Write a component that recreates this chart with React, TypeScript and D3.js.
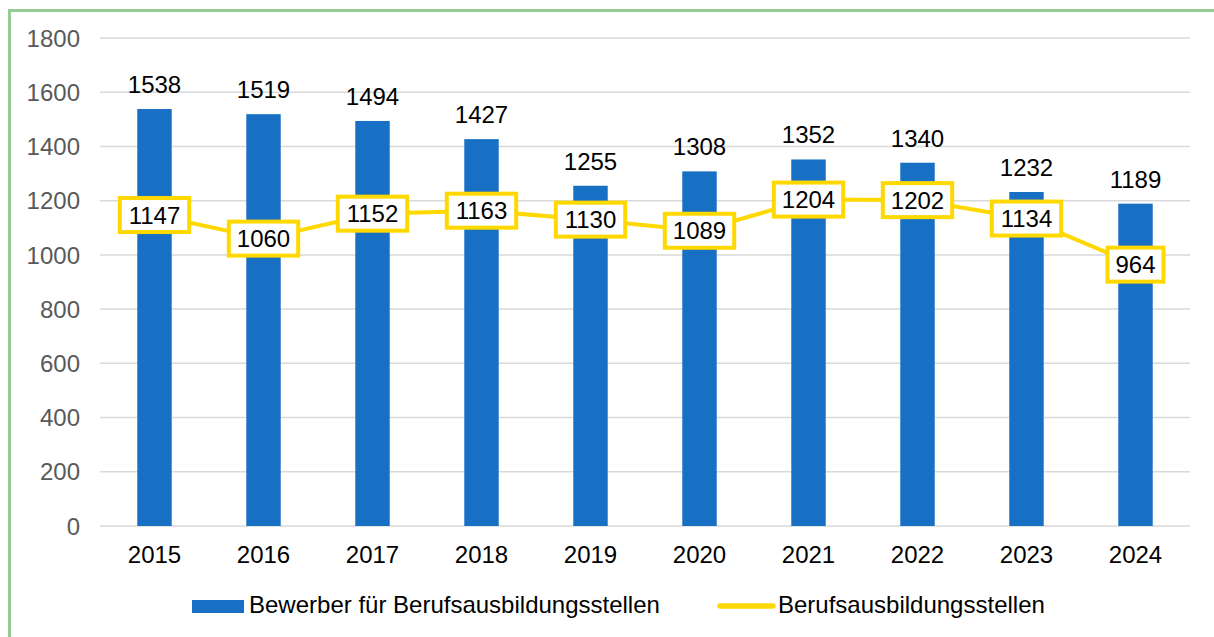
import React from "react";
import * as d3 from "d3";

const years = ["2015", "2016", "2017", "2018", "2019", "2020", "2021", "2022", "2023", "2024"];
const bewerber = [1538, 1519, 1494, 1427, 1255, 1308, 1352, 1340, 1232, 1189];
const stellen = [1147, 1060, 1152, 1163, 1130, 1089, 1204, 1202, 1134, 964];
const yTicks = [0, 200, 400, 600, 800, 1000, 1200, 1400, 1600, 1800];
const seriesNames = ["Bewerber für Berufsausbildungsstellen", "Berufsausbildungsstellen"];

const W = 1214, H = 637;
const BLUE = "#1870C5";
const YELLOW = "#FFD800";
const FONT = "'Liberation Sans', Arial, sans-serif";
const FS = 24;

function textWidth(s: string) {
  return s.length * 0.556 * FS;
}

export default function App() {
  const x = d3.scaleBand<string>().domain(years).range([100, 1190]).paddingInner(0.684).paddingOuter(0.342);
  const y = d3.scaleLinear().domain([0, 1800]).range([526, 38]);
  const cx = (yr: string) => (x(yr) ?? 0) + x.bandwidth() / 2;
  const line = d3.line<number>().x((_, i) => cx(years[i])).y((d) => y(d));

  return (
    <svg width={W} height={H} style={{ position: "absolute", left: 0, top: 0, background: "#fff" }}>
      <rect x={0} y={0} width={W} height={H} fill="#fff" />
      <line x1={9.5} y1={10} x2={9.5} y2={H} stroke="#94CC94" strokeWidth={3} />
      <line x1={8} y1={10.5} x2={W} y2={10.5} stroke="#94CC94" strokeWidth={3} />
      {yTicks.map((t) => (
        <g key={t}>
          <line x1={100} x2={1190} y1={y(t)} y2={y(t)} stroke="#D9D9D9" strokeWidth={1.5} />
          <text x={80} y={y(t)} dy="0.36em" textAnchor="end" fontFamily={FONT} fontSize={FS} fill="#595959">{t}</text>
        </g>
      ))}
      {bewerber.map((v, i) => (
        <g key={years[i]}>
          <rect x={x(years[i])} y={y(v)} width={x.bandwidth()} height={y(0) - y(v)} fill={BLUE} />
          <text x={cx(years[i])} y={y(v) - 16} textAnchor="middle" fontFamily={FONT} fontSize={FS} fill="#000">{v}</text>
        </g>
      ))}
      {years.map((yr) => (
        <text key={yr} x={cx(yr)} y={563} textAnchor="middle" fontFamily={FONT} fontSize={FS} fill="#000">{yr}</text>
      ))}
      <path d={line(stellen) ?? ""} fill="none" stroke={YELLOW} strokeWidth={4} strokeLinejoin="round" />
      {stellen.map((v, i) => {
        const w = textWidth(String(v)) + 16;
        const h = 34;
        return (
          <g key={"s" + i}>
            <rect x={cx(years[i]) - w / 2} y={y(v) - h / 2} width={w} height={h} fill="#fff" stroke={YELLOW} strokeWidth={4} />
            <text x={cx(years[i])} y={y(v)} dy="0.36em" textAnchor="middle" fontFamily={FONT} fontSize={FS} fill="#000">{v}</text>
          </g>
        );
      })}
      <rect x={192} y={600} width={52} height={13} fill={BLUE} />
      <text x={249} y={613} fontFamily={FONT} fontSize={FS} fill="#000">{seriesNames[0]}</text>
      <line x1={720} x2={773} y1={606} y2={606} stroke={YELLOW} strokeWidth={5.5} strokeLinecap="round" />
      <text x={778} y={613} fontFamily={FONT} fontSize={FS} fill="#000">{seriesNames[1]}</text>
    </svg>
  );
}
